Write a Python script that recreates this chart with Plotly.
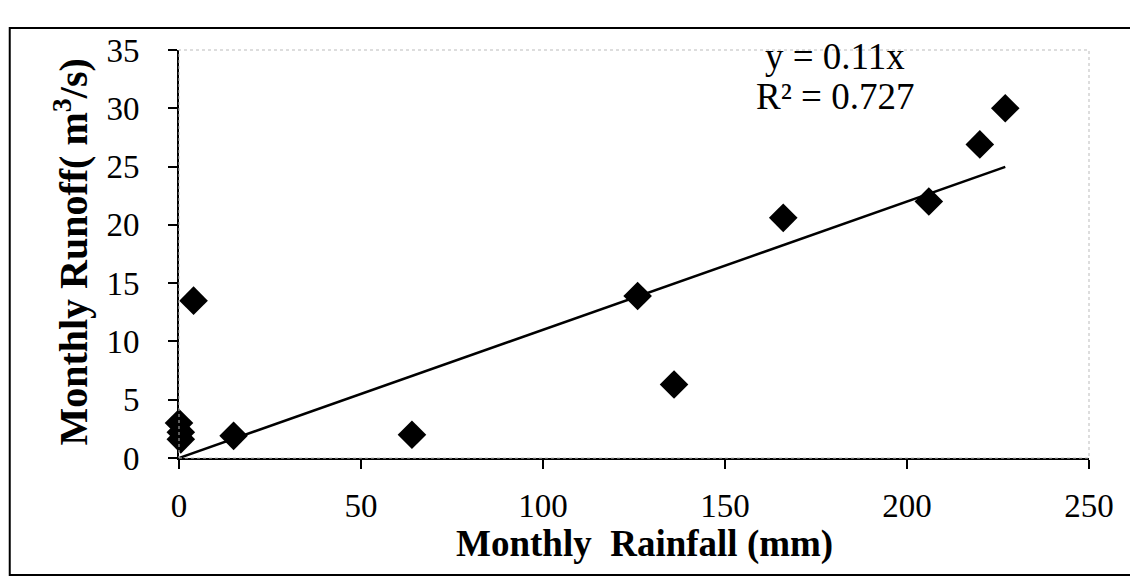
import plotly.graph_objects as go

rainfall = [0, 0.5, 0.5, 4, 15, 64, 126, 136, 166, 206, 220, 227]
runoff = [3.0, 2.2, 1.6, 13.5, 1.9, 2.0, 13.9, 6.3, 20.6, 22.0, 26.9, 30.0]
slope = 0.11
r2 = 0.727
x_ticks = [0, 50, 100, 150, 200, 250]
y_ticks = [0, 5, 10, 15, 20, 25, 30, 35]

trend_x = [min(rainfall), max(rainfall)]
trend_y = [slope * v for v in trend_x]

font_family = "Liberation Serif, Times New Roman, serif"

fig = go.Figure()
fig.add_trace(go.Scatter(x=trend_x, y=trend_y, mode="lines",
                         line=dict(color="black", width=2.5), showlegend=False,
                         cliponaxis=False))
fig.add_trace(go.Scatter(x=rainfall, y=runoff, mode="markers",
                         marker=dict(symbol="diamond", size=22, color="black"),
                         showlegend=False, cliponaxis=False))

fig.update_layout(
    width=1138, height=588,
    margin=dict(l=171, r=57, t=42, b=138, autoexpand=False),
    paper_bgcolor="white", plot_bgcolor="white",
    font=dict(family=font_family, size=33, color="black"),
    xaxis=dict(range=[0, 250], tickvals=x_ticks, ticks="outside", ticklen=9,
               tickwidth=2, tickcolor="black", showline=True, linecolor="black",
               linewidth=2, showgrid=False, zeroline=False, automargin=False,
               ticklabelstandoff=8, tickfont=dict(size=33)),
    yaxis=dict(range=[0, 35], tickvals=y_ticks, ticks="outside", ticklen=9,
               tickwidth=2, tickcolor="black", showline=True, linecolor="black",
               linewidth=2, showgrid=False, zeroline=False, automargin=False,
               ticklabelstandoff=22, tickfont=dict(size=33)),
    annotations=[
        dict(x=0.721, y=0.983, xref="paper", yref="paper", xanchor="center",
             yanchor="middle", showarrow=False,
             text=f"y = {slope}x", font=dict(size=37)),
        dict(x=0.721, y=0.885, xref="paper", yref="paper", xanchor="center",
             yanchor="middle", showarrow=False,
             text=f"R² = {r2}", font=dict(size=37)),
        dict(x=0.512, y=-0.21, xref="paper", yref="paper", xanchor="center",
             yanchor="middle", showarrow=False,
             text="<b>Monthly  Rainfall (mm)</b>", font=dict(size=37)),
        dict(x=-0.118, y=0.505, xref="paper", yref="paper", xanchor="center",
             yanchor="middle", showarrow=False, textangle=-90,
             text="<b>Monthly Runoff( m<sup>3</sup>/s)</b>", font=dict(size=40)),
    ],
    shapes=[
        dict(type="rect", xref="paper", yref="paper", x0=0, y0=0, x1=1, y1=1,
             line=dict(color="#bbbbbb", width=1, dash="dot")),
        dict(type="rect", xref="paper", yref="paper",
             x0=-0.186, y0=-0.287, x1=1.05, y1=1.054,
             line=dict(color="black", width=2)),
    ],
)

fig.write_html("out.html")
